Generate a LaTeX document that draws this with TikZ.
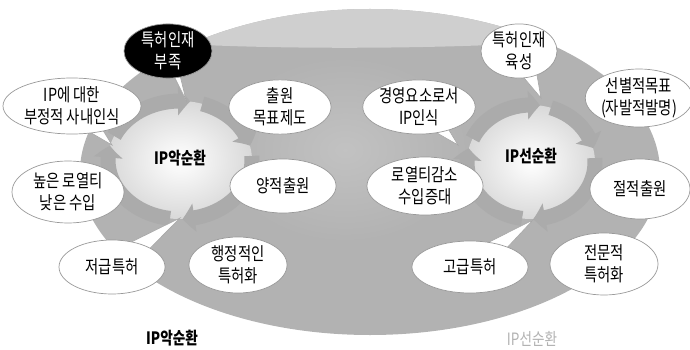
\documentclass[tikz,border=0pt]{standalone}
\usepackage{fontspec}
\setmainfont{Liberation Sans}
\newfontfamily\kr[FakeStretch=0.8]{Noto Sans CJK KR}
\usetikzlibrary{shapes.geometric,arrows.meta,calc,bending}
\pgfdeclarelayer{back}
\pgfdeclarelayer{mid}
\pgfsetlayers{back,mid,main}
\newcommand\tailto[3]{\filldraw[tail] ($(#1.center)!#3!90:(#2)$) -- (#2) -- ($(#1.center)!#3!-90:(#2)$) -- cycle;}
\begin{document}
\begin{tikzpicture}[x=1pt,y=-1pt,
  bubble/.style={ellipse, draw=gray!80, line width=0.7pt, fill=white, inner sep=0pt, align=center,
    font=\kr\fontsize{18}{22}\selectfont},
  ringarc/.style={line width=15pt, draw=gray!66, -{Triangle[width=28pt,length=12pt,bend]}},
  tail/.style={fill=white, draw=gray!70, line width=0.6pt},
  cyclabel/.style={font=\kr\bfseries\fontsize{17}{19}\selectfont}]
\useasboundingbox (0,0) rectangle (690,350);

% ---- background and rings
\begin{pgfonlayer}{back}
\path[fill=gray!60] (370,172) ellipse [x radius=290, y radius=163];
\begin{scope}
  \clip (370,172) ellipse [x radius=290, y radius=163];
  \fill[gray!38] (150,0) -- (150,42) .. controls (260,50) and (450,50) .. (580,40) -- (580,0) -- cycle;
  \shade[inner color=gray!48, outer color=gray!60] (345,150) ellipse [x radius=120, y radius=90];
\end{scope}
% left ring
\coordinate (LC) at (180,160);
\shade[inner color=white, outer color=gray!30] (LC) ellipse [x radius=72, y radius=59];
\foreach \a/\b in {-72/-14, -4/88, 98/194, 204/278}
  \draw[ringarc] ($(LC)+(\a:72 and 59)$) arc[start angle=\a, end angle=\b, x radius=72, y radius=59];
% right ring
\coordinate (RC) at (531,162);
\shade[inner color=white, outer color=gray!30] (RC) ellipse [x radius=64, y radius=57];
\foreach \a/\b in {-72/-14, -4/88, 98/194, 204/278}
  \draw[ringarc] ($(RC)+(\a:64 and 57)$) arc[start angle=\a, end angle=\b, x radius=64, y radius=57];
\end{pgfonlayer}

% ---- bubbles, left cycle
\node[bubble, fill=black, text=white, minimum width=88pt, minimum height=48pt] (lack) at (168,51) {특허인재\\부족};
\node[bubble, minimum width=138pt, minimum height=56pt] (neg) at (72,106) {IP에 대한\\부정적 사내인식};
\node[bubble, minimum width=102pt, minimum height=52pt] (goal) at (280,107) {출원\\목표제도};
\node[bubble, minimum width=106pt, minimum height=54pt] (quant) at (283,186) {양적출원};
\node[bubble, minimum width=112pt, minimum height=62pt] (royhi) at (68,192) {높은 로열티\\낮은 수입};
\node[bubble, minimum width=106pt, minimum height=54pt] (low) at (112,267) {저급특허};
\node[bubble, minimum width=98pt, minimum height=56pt] (admin) at (238,265) {행정적인\\특허화};
\node[cyclabel] (badin) at (180,158) {IP악순환};
\node[cyclabel] (badout) at (172,338) {IP악순환};

% ---- bubbles, right cycle
\node[bubble, minimum width=76pt, minimum height=54pt] (grow) at (519,51) {특허인재\\육성};
\node[bubble, minimum width=102pt, minimum height=54pt] (mgmt) at (419,107) {경영요소로서\\IP인식};
\node[bubble, minimum width=104pt, minimum height=58pt] (select) at (639,98) {선별적목표\\(자발적발명)};
\node[bubble, minimum width=116pt, minimum height=58pt] (roylo) at (425,186) {로열티감소\\수입증대};
\node[bubble, minimum width=100pt, minimum height=60pt] (qual) at (640,189) {절적출원};
\node[bubble, minimum width=116pt, minimum height=52pt] (high) at (470,267) {고급특허};
\node[bubble, minimum width=108pt, minimum height=62pt] (expert) at (604,264) {전문적\\특허화};
\node[cyclabel] (goodin) at (531,156) {IP선순환};
\node[font=\kr\fontsize{17}{19}\selectfont, text=gray!60] (goodout) at (532,339) {IP선순환};

% ---- speech-bubble tails
\coordinate (t1) at (186,100);
\coordinate (t2) at (112,145);
\coordinate (t3) at (180,218);
\coordinate (t4) at (541,98);
\coordinate (t5) at (458,145);
\coordinate (t6) at (533,220);
\begin{pgfonlayer}{mid}
\tailto{lack}{t1}{6pt}
\tailto{neg}{t2}{14pt}
\tailto{low}{t3}{14pt}
\tailto{grow}{t4}{14pt}
\tailto{mgmt}{t5}{14pt}
\tailto{high}{t6}{14pt}
\end{pgfonlayer}
\end{tikzpicture}
\end{document}
